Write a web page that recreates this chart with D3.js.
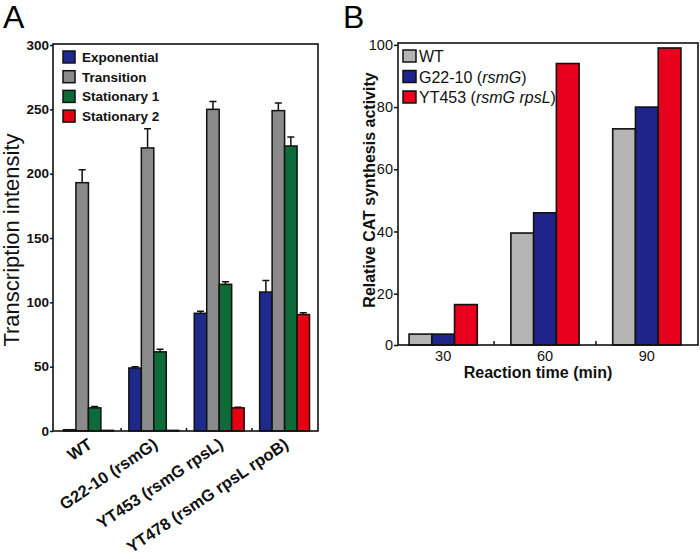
<!DOCTYPE html>
<html>
<head>
<meta charset="utf-8">
<script src="https://cdn.jsdelivr.net/npm/d3@7/dist/d3.min.js"></script>
<style>
  html, body { margin: 0; padding: 0; background: #fff; }
  svg { display: block; font-family: "Liberation Sans", Arial, sans-serif; }
</style>
</head>
<body>
<svg id="chart" width="700" height="559"></svg>
<script>
// ---------- Panel A data ----------
const aCategories = ["WT", "G22-10 (rsmG)", "YT453 (rsmG rpsL)", "YT478 (rsmG rpsL rpoB)"];
const aSeries = ["Exponential", "Transition", "Stationary 1", "Stationary 2"];
const aExponential = [1, 49, 91.5, 108];
const aTransition = [193, 220, 250, 249];
const aStationary1 = [18, 61.5, 114, 221.5];
const aStationary2 = [0.5, 0.5, 18, 90.5];
const aExponentialErr = [0, 1, 1.5, 9];
const aTransitionErr = [10, 15, 6, 6];
const aStationary1Err = [1, 2, 2, 7];
const aStationary2Err = [0, 0, 0.5, 1.5];
const aYTicks = [0, 50, 100, 150, 200, 250, 300];
const aColors = ["#1d2a8c", "#8a8a8a", "#0c6b38", "#e60012"];

// ---------- Panel B data ----------
const bTimes = ["30", "60", "90"];
const bSeries = ["WT", "G22-10 (rsmG)", "YT453 (rsmG rpsL)"];
const bWT = [7, 39.5, 73];
const bG22 = [7, 46, 80];
const bYT453 = [16.5, 94, 99];
const bYTicks = [20, 40, 60, 80, 100];
const bAxisMin = 3.5;   // axis baseline of the original figure (labelled "0")
const bColors = ["#b4b4b4", "#1e2489", "#e8001c"];

const svg = d3.select("#chart");
const font = "'Liberation Sans', Arial, sans-serif";

// ======================= PANEL A =======================
(function () {
  const left = 53, right = 318, top = 44, bottom = 431;
  const y = d3.scaleLinear().domain([0, 300]).range([431, 45]);
  const x = d3.scaleBand().domain(aCategories).range([53, 320]).paddingInner(0.237).paddingOuter(0.16);
  const xi = d3.scaleBand().domain(aSeries).range([0, x.bandwidth()]);
  const vals = [aExponential, aTransition, aStationary1, aStationary2];
  const errs = [aExponentialErr, aTransitionErr, aStationary1Err, aStationary2Err];

  const g = svg.append("g");

  g.append("text").attr("x", 3).attr("y", 28).attr("font-size", 32).text("A");

  const data = [];
  aCategories.forEach((c, i) => aSeries.forEach((s, j) => data.push({c, s, j, v: vals[j][i], e: errs[j][i]})));

  g.selectAll("rect.bar").data(data).join("rect")
    .attr("x", d => x(d.c) + xi(d.s))
    .attr("y", d => y(d.v))
    .attr("width", xi.bandwidth())
    .attr("height", d => y(0) - y(d.v))
    .attr("fill", d => aColors[d.j])
    .attr("stroke", "#111").attr("stroke-width", 1.5);

  const eb = data.filter(d => d.e > 0.4);
  g.selectAll("path.err").data(eb).join("path")
    .attr("d", d => {
      const cx = x(d.c) + xi(d.s) + xi.bandwidth() / 2;
      const y0 = y(d.v), y1 = y(d.v + d.e);
      return `M${cx},${y0}V${y1}M${cx - 3.5},${y1}H${cx + 3.5}`;
    })
    .attr("stroke", "#111").attr("stroke-width", 1.5).attr("fill", "none");

  // frame
  g.append("rect").attr("x", left).attr("y", top).attr("width", right - left).attr("height", bottom - top)
    .attr("fill", "none").attr("stroke", "#111").attr("stroke-width", 1.6);

  // y axis
  const ya = g.append("g").attr("transform", `translate(${left},0)`)
    .call(d3.axisLeft(y).tickValues(aYTicks).tickSize(3).tickPadding(1));
  ya.select(".domain").remove();
  ya.selectAll("line").attr("stroke", "#111").attr("stroke-width", 1.5);
  ya.selectAll("text").attr("font-size", 13.5).attr("font-weight", "bold").attr("font-family", font).attr("fill", "#111");

  // inner ticks between groups
  const step = x.step(), bw = x.bandwidth();
  g.selectAll("line.xt").data(aCategories.slice(0, -1)).join("line")
    .attr("x1", d => x(d) + bw + (step - bw) / 2).attr("x2", d => x(d) + bw + (step - bw) / 2)
    .attr("y1", bottom).attr("y2", bottom - 3)
    .attr("stroke", "#111").attr("stroke-width", 1.5);

  // x labels
  g.selectAll("text.xl").data(aCategories).join("text")
    .attr("transform", d => `translate(${x(d) + bw / 2 + 5},${bottom + 16}) rotate(-34)`)
    .attr("text-anchor", "end").attr("font-size", 16.5).attr("font-weight", "bold").attr("fill", "#111")
    .text(d => d);

  // y label
  g.append("text").attr("transform", "translate(19,240) rotate(-90)")
    .attr("text-anchor", "middle").attr("font-size", 22).attr("fill", "#111")
    .text("Transcription intensity");

  // legend
  const lg = g.append("g");
  aSeries.forEach((s, i) => {
    const cy = 57 + i * 19.7;
    lg.append("rect").attr("x", 63).attr("y", cy - 6).attr("width", 12).attr("height", 12)
      .attr("fill", aColors[i]).attr("stroke", "#111").attr("stroke-width", 1.5);
    lg.append("text").attr("x", 82).attr("y", cy + 5).attr("font-size", 13.5).attr("font-weight", "bold")
      .attr("fill", "#111").text(s);
  });
})();

// ======================= PANEL B =======================
(function () {
  const left = 398, right = 698, top = 43, bottom = 345;
  const y = d3.scaleLinear().domain([bAxisMin, 100.6]).range([345, 43]);
  const x = d3.scaleBand().domain(bTimes).range([392.25, 697.75]).paddingInner(0.33).paddingOuter(0.165);
  const xi = d3.scaleBand().domain(bSeries).range([0, x.bandwidth()]);
  const vals = [bWT, bG22, bYT453];

  const g = svg.append("g");
  g.append("text").attr("x", 343).attr("y", 28).attr("font-size", 32).text("B");

  const data = [];
  bTimes.forEach((t, i) => bSeries.forEach((s, j) => data.push({t, s, j, v: vals[j][i]})));

  g.selectAll("rect.bar").data(data).join("rect")
    .attr("x", d => x(d.t) + xi(d.s))
    .attr("y", d => y(d.v))
    .attr("width", xi.bandwidth())
    .attr("height", d => y(bAxisMin) - y(d.v))
    .attr("fill", d => bColors[d.j])
    .attr("stroke", "#111").attr("stroke-width", 1.6);

  g.append("rect").attr("x", left).attr("y", top).attr("width", right - left).attr("height", bottom - top)
    .attr("fill", "none").attr("stroke", "#111").attr("stroke-width", 1.6);

  const ya = g.append("g").attr("transform", `translate(${left},0)`)
    .call(d3.axisLeft(y).tickValues([bAxisMin].concat(bYTicks)).tickSize(4).tickPadding(1)
      .tickFormat(d => d === bAxisMin ? "0" : d3.format("d")(d)));
  ya.select(".domain").remove();
  ya.selectAll("line").attr("stroke", "#111").attr("stroke-width", 1.5);
  ya.selectAll("text").attr("font-size", 14.5).attr("font-family", font).attr("fill", "#111");

  const step = x.step(), bw = x.bandwidth();
  g.selectAll("line.xt").data(bTimes.slice(0, -1)).join("line")
    .attr("x1", d => x(d) + bw + (step - bw) / 2).attr("x2", d => x(d) + bw + (step - bw) / 2)
    .attr("y1", bottom).attr("y2", bottom - 4)
    .attr("stroke", "#111").attr("stroke-width", 1.5);

  g.selectAll("text.xl").data(bTimes).join("text")
    .attr("x", d => x(d) + bw / 2).attr("y", 361)
    .attr("text-anchor", "middle").attr("font-size", 14.5).attr("fill", "#111").text(d => d);

  g.append("text").attr("x", 538).attr("y", 378).attr("text-anchor", "middle")
    .attr("font-size", 16).attr("font-weight", "bold").attr("fill", "#111").text("Reaction time (min)");

  g.append("text").attr("transform", "translate(375,190) rotate(-90)")
    .attr("text-anchor", "middle").attr("font-size", 16).attr("font-weight", "bold").attr("fill", "#111")
    .text("Relative CAT synthesis activity");

  // legend with italic gene names
  bSeries.forEach((s, i) => {
    const cy = 56 + i * 20.5;
    g.append("rect").attr("x", 403).attr("y", cy - 6).attr("width", 13).attr("height", 12)
      .attr("fill", bColors[i]).attr("stroke", "#111").attr("stroke-width", 1.5);
    const t = g.append("text").attr("x", 419).attr("y", cy + 6).attr("font-size", 16).attr("fill", "#111");
    const m = s.match(/^(.*\()(.*)(\))$/);
    if (m) {
      t.append("tspan").text(m[1]);
      t.append("tspan").attr("font-style", "italic").text(m[2]);
      t.append("tspan").text(m[3]);
    } else {
      t.text(s);
    }
  });
})();
</script>
</body>
</html>
